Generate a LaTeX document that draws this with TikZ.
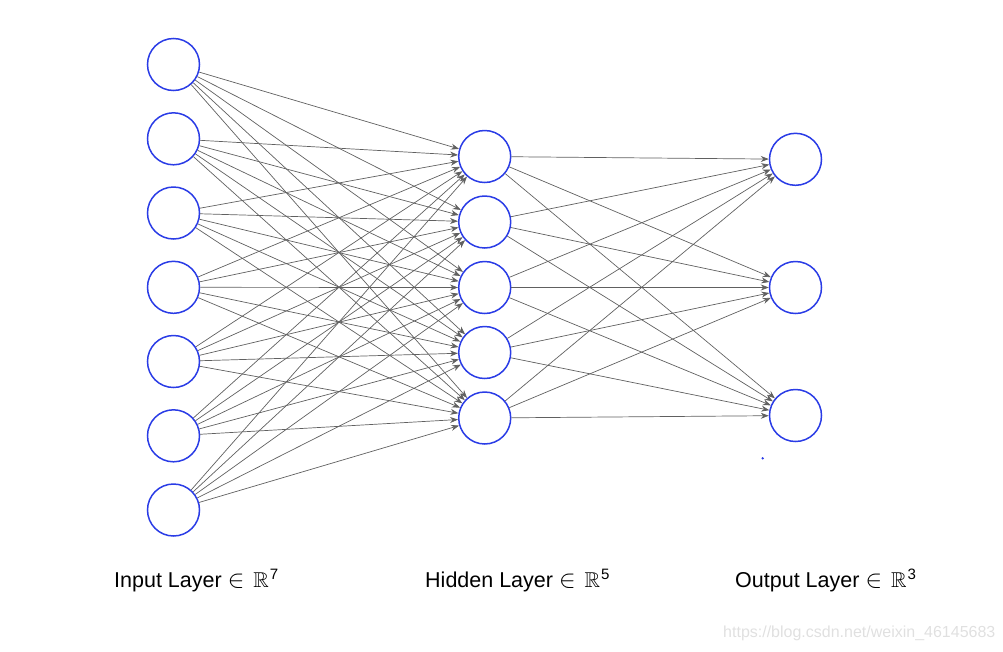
\documentclass[tikz,border=0pt]{standalone}
\usepackage{amssymb}
\usepackage{graphicx}
\usepackage{fontspec}
\setmainfont{Liberation Sans}
\usetikzlibrary{arrows.meta}
\definecolor{nodeblue}{HTML}{2A3CE6}
\definecolor{edgegray}{HTML}{606060}
\newcommand{\inR}[1]{\hspace{6pt}\scalebox{1.2}{\(\in\)}\hspace{9pt}\(\mathbb{R}\)\hspace{1pt}\textsuperscript{#1}}
\begin{document}
\begin{tikzpicture}[x=1pt,y=-1pt,
  neuron/.style={circle,draw=nodeblue,line width=1.5pt,fill=white,minimum size=52pt,inner sep=0pt},
  conn/.style={draw=edgegray,line width=0.7pt,-{Stealth[length=8pt,width=6pt]}},
  layerlabel/.style={anchor=base west,inner sep=0pt,font=\fontsize{21.5}{25}\selectfont},
  wmark/.style={anchor=base west,inner sep=0pt,text=black!12,font=\fontsize{16}{19}\selectfont}]
\useasboundingbox (0,0) rectangle (1003,651);
\foreach \i/\y in {1/64.5,2/138.8,3/213,4/287.3,5/361.5,6/435.8,7/510}
  \node[neuron] (in\i) at (173.5,\y) {};
\foreach \j/\y in {1/156.5,2/222,3/287.5,4/352.5,5/418}
  \node[neuron] (h\j) at (484.7,\y) {};
\foreach \k/\y in {1/159.3,2/287.5,3/415.5}
  \node[neuron] (out\k) at (795.5,\y) {};
\foreach \i in {1,...,7}
  \foreach \j in {1,...,5}
    \draw[conn] (in\i) -- (h\j);
\foreach \j in {1,...,5}
  \foreach \k in {1,2,3}
    \draw[conn] (h\j) -- (out\k);
\node[layerlabel] (lin) at (114,587) {Input Layer\inR{7}};
\node[layerlabel] (lhid) at (425,587) {Hidden Layer\inR{5}};
\node[layerlabel] (lout) at (735,587) {Output Layer\inR{3}};
\fill[nodeblue] (762.7,458.3) circle (1.3pt);
\node[wmark] (wm) at (723,637) {https://blog.csdn.net/weixin\_46145683};
\end{tikzpicture}
\end{document}
